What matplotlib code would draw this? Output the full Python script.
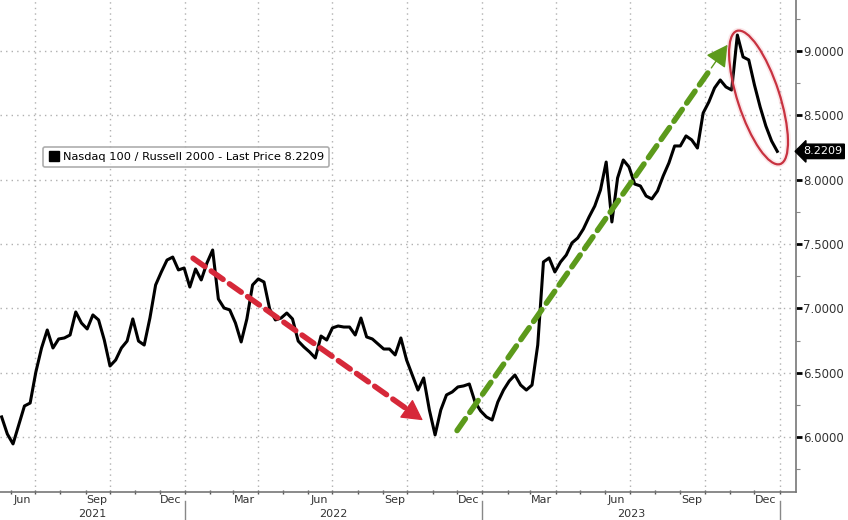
import pandas as pd
import matplotlib
matplotlib.use("Agg")
import matplotlib.pyplot as plt
import matplotlib.dates as mdates
import matplotlib.transforms as mtransforms
from matplotlib.patches import Ellipse
from matplotlib.lines import Line2D
from matplotlib.ticker import MultipleLocator, FormatStrFormatter

plt.rcParams['font.family'] = ['DejaVu Sans']

# weekly closes (Nasdaq 100 / Russell 2000 ratio)
dates = pd.date_range('2021-05-21', periods=137, freq='W-FRI')
ratio = [
    6.156, 6.023, 5.946, 6.093, 6.241, 6.264, 6.505, 6.692, 6.832, 6.692,
    6.762, 6.770, 6.793, 6.972, 6.886, 6.840, 6.949, 6.910, 6.754, 6.552,
    6.599, 6.692, 6.746, 6.918, 6.746, 6.715, 6.925, 7.182, 7.283, 7.376,
    7.399, 7.299, 7.314, 7.166, 7.306, 7.221, 7.353, 7.454, 7.073, 7.003,
    6.988, 6.886, 6.739, 6.918, 7.182, 7.229, 7.205, 6.995, 6.910, 6.925,
    6.964, 6.918, 6.746, 6.700, 6.661, 6.614, 6.785, 6.754, 6.848, 6.863,
    6.855, 6.855, 6.793, 6.925, 6.778, 6.762, 6.723, 6.684, 6.684, 6.638,
    6.770, 6.599, 6.482, 6.365, 6.459, 6.210, 6.016, 6.210, 6.327, 6.350,
    6.389, 6.397, 6.412, 6.272, 6.202, 6.156, 6.132, 6.272, 6.365, 6.435,
    6.482, 6.404, 6.365, 6.404, 6.715, 7.361, 7.392, 7.283, 7.361, 7.415,
    7.509, 7.547, 7.617, 7.711, 7.796, 7.921, 8.138, 7.672, 8.014, 8.154,
    8.100, 7.967, 7.952, 7.874, 7.851, 7.913, 8.030, 8.131, 8.263, 8.263,
    8.341, 8.310, 8.247, 8.519, 8.605, 8.714, 8.776, 8.722, 8.698, 9.126,
    8.955, 8.932, 8.737, 8.566, 8.418, 8.302, 8.221,
]
last_price = 8.2209
legend_label = 'Nasdaq 100 / Russell 2000 - Last Price 8.2209'
years = ['2021', '2022', '2023']

# annotation anchors (date, value)
red_arrow = (('2022-01-11', 7.39), ('2022-10-20', 6.13))
green_arrow = (('2022-12-01', 6.05), ('2023-10-29', 9.05))
circle_center = ('2023-12-06', 8.64)

fig = plt.figure(figsize=(8.48, 5.2), dpi=100)
ax = fig.add_axes([0.0, 0.0538, 0.9387, 0.9462])

ax.plot(dates, ratio, color='black', lw=2.2, zorder=3)

ax.set_xlim(pd.Timestamp('2021-05-19'), pd.Timestamp('2024-01-21'))
ax.set_ylim(5.572, 9.398)

# y axis on the right
ax.yaxis.tick_right()
ax.yaxis.set_major_locator(MultipleLocator(0.5))
ax.yaxis.set_minor_locator(MultipleLocator(0.25))
ax.yaxis.set_major_formatter(FormatStrFormatter('%.4f'))
ax.tick_params(axis='y', which='major', length=4, width=2, color='black',
               labelsize=8.5, labelcolor='#333333', pad=1)
ax.tick_params(axis='y', which='minor', length=3, width=0.8, color='#888888')
ax.grid(axis='y', which='major', color='#b0b0b0', lw=1, linestyle=(0, (1, 3)))

# x axis: month labels in mid-month, ticks at month starts
ax.xaxis.set_major_locator(mdates.MonthLocator(bymonth=[3, 6, 9, 12], bymonthday=15))
ax.xaxis.set_major_formatter(mdates.DateFormatter('%b'))
ax.xaxis.set_minor_locator(mdates.MonthLocator())
ax.tick_params(axis='x', which='major', length=0, labelsize=8, labelcolor='#333333', pad=2)
ax.tick_params(axis='x', which='minor', length=3, width=1, color='#555555', direction='inout')

for q in pd.date_range('2021-07-01', '2024-01-01', freq='QS'):
    ax.axvline(q, color='#b0b0b0', lw=1, linestyle=(0, (1, 3)), zorder=1)

# year labels and separators
trans = mtransforms.blended_transform_factory(ax.transData, ax.transAxes)
xmin, xmax = ax.get_xlim()
bounds = [xmin] + [mdates.date2num(pd.Timestamp(f'{y}-01-01')) for y in (2022, 2023, 2024)]
for i, y in enumerate(years):
    mid = (bounds[i] + bounds[i + 1]) / 2
    ax.text(mid, -0.045, y, transform=trans, ha='center', va='center',
            fontsize=8, color='#333333')
for b in bounds[1:]:
    ax.plot([b, b], [-0.018, -0.06], transform=trans, color='#888888', lw=1, clip_on=False)

for side in ['top', 'left']:
    ax.spines[side].set_visible(False)
for side in ['right', 'bottom']:
    ax.spines[side].set_color('#777777')
    ax.spines[side].set_linewidth(1.2)

# trend arrows: dashed shaft plus a solid head
def trend_arrow(seg, color):
    (d0, v0), (d1, v1) = seg
    x0, x1 = mdates.date2num(pd.Timestamp(d0)), mdates.date2num(pd.Timestamp(d1))
    hx, hy = x0 + 0.94 * (x1 - x0), v0 + 0.94 * (v1 - v0)
    ax.annotate('', xy=(hx, hy), xytext=(x0, v0),
                arrowprops=dict(arrowstyle='-', color=color, lw=4,
                                linestyle=(0, (2.6, 1.4)), shrinkA=0, shrinkB=0),
                zorder=4)
    ax.annotate('', xy=(x1, v1), xytext=(hx, hy),
                arrowprops=dict(arrowstyle='-|>,head_length=1.1,head_width=0.6',
                                color=color, lw=1, mutation_scale=12,
                                shrinkA=0, shrinkB=0), zorder=4)

trend_arrow(red_arrow, '#d62839')
trend_arrow(green_arrow, '#5c9a1b')

# red ellipse around the recent drop
offset = mtransforms.ScaledTranslation(mdates.date2num(pd.Timestamp(circle_center[0])),
                                       circle_center[1], ax.transData)
for lw, alpha, col in [(4, 0.25, '#f0a0a8'), (1.6, 1.0, '#c83240')]:
    ax.add_patch(Ellipse((0, 0), 1.40, 0.42, angle=-72, fill=False, lw=lw,
                         edgecolor=col, alpha=alpha,
                         transform=fig.dpi_scale_trans + offset, zorder=5))

# last price tag
ax.annotate(f'{last_price:.4f}', xy=(1.0, last_price), xycoords=('axes fraction', 'data'),
            xytext=(5, 0), textcoords='offset points', ha='left', va='center',
            fontsize=8, color='white', annotation_clip=False,
            bbox=dict(boxstyle='larrow,pad=0.2', fc='black', ec='black'))

# legend
handle = Line2D([], [], marker='s', color='black', linestyle='none', markersize=7)
leg = ax.legend([handle], [legend_label], loc='upper left', bbox_to_anchor=(0.047, 0.713),
                fontsize=8.2, frameon=True, fancybox=True, edgecolor='#999999',
                handletextpad=0.3, borderpad=0.45, handlelength=1.0)
leg.get_frame().set_linewidth(1.2)

fig.savefig('out.png', dpi=100)
